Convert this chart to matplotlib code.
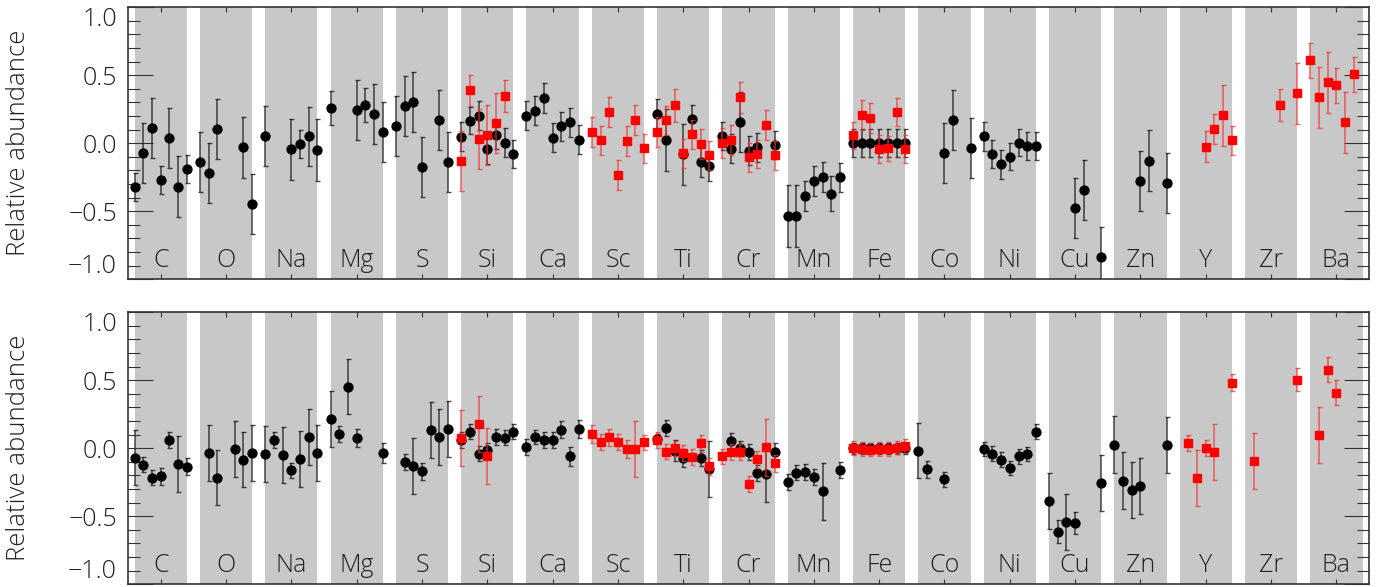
import numpy as np
import matplotlib
matplotlib.use("Agg")
import matplotlib.pyplot as plt
from matplotlib.ticker import MultipleLocator, FixedLocator

N = None
elements = ["C", "O", "Na", "Mg", "S", "Si", "Ca", "Sc", "Ti", "Cr",
            "Mn", "Fe", "Co", "Ni", "Cu", "Zn", "Y", "Zr", "Ba"]
E7 = [N] * 7

# ---------------- top panel ----------------
top_black_val = [
    [-0.32, -0.07, 0.115, -0.27, 0.04, -0.32, -0.19],      # C
    [-0.14, -0.22, 0.105, N, N, -0.03, -0.445],            # O
    [0.055, N, N, -0.045, -0.005, 0.05, -0.05],            # Na
    [0.257, N, N, 0.245, 0.28, 0.215, 0.08],               # Mg
    [0.125, 0.275, 0.305, -0.175, N, 0.17, -0.14],         # S
    [0.049, 0.166, 0.203, -0.04, 0.063, 0.005, -0.08],     # Si
    [0.203, 0.24, 0.335, 0.041, 0.125, 0.154, 0.027],      # Ca
    E7,                                                    # Sc
    [0.213, 0.024, N, -0.08, 0.179, -0.14, -0.169],        # Ti
    [0.054, -0.04, 0.157, -0.054, -0.03, N, -0.012],       # Cr
    [-0.535, -0.535, -0.39, -0.275, -0.25, -0.37, -0.25],  # Mn
    [0.0, 0.0, 0.0, 0.0, 0.0, 0.0, 0.0],                   # Fe
    [N, N, N, -0.074, 0.17, N, -0.037],                    # Co
    [0.05, -0.08, -0.155, -0.1, 0.005, -0.02, -0.02],      # Ni
    [N, N, N, -0.473, -0.343, N, -0.836],                  # Cu
    [N, N, N, -0.28, -0.127, N, -0.29],                    # Zn
    E7, E7, E7,                                            # Y Zr Ba
]
top_black_err = [
    [0.105, 0.22, 0.22, 0.105, 0.22, 0.225, 0.105],
    [0.22, 0.22, 0.22, N, N, 0.225, 0.22],
    [0.22, N, N, 0.225, 0.105, 0.22, 0.225],
    [0.125, N, N, 0.22, 0.125, 0.22, 0.22],
    [0.22, 0.22, 0.22, 0.22, N, 0.22, 0.22],
    [0.105, 0.10, 0.105, 0.11, 0.105, 0.105, 0.105],
    [0.105, 0.105, 0.11, 0.105, 0.105, 0.105, 0.105],
    E7,
    [0.115, 0.225, N, 0.225, 0.105, 0.11, 0.105],
    [0.105, 0.105, 0.22, 0.105, 0.105, N, 0.105],
    [0.225, 0.225, 0.11, 0.11, 0.11, 0.13, 0.105],
    [0.103, 0.103, 0.103, 0.103, 0.103, 0.103, 0.103],
    [N, N, N, 0.22, 0.22, N, 0.22],
    [0.11, 0.105, 0.105, 0.1, 0.1, 0.105, 0.1],
    [N, N, N, 0.22, 0.22, N, 0.22],
    [N, N, N, 0.22, 0.225, N, 0.22],
    E7, E7, E7,
]
top_red_val = [
    E7, E7, E7, E7, E7,
    [-0.133, 0.39, 0.03, 0.063, 0.147, 0.348, N],          # Si
    E7,                                                    # Ca
    [0.081, 0.022, 0.228, -0.235, 0.015, 0.169, -0.037],   # Sc
    [0.081, 0.169, 0.279, -0.074, 0.066, -0.007, -0.088],  # Ti
    [0.0, 0.022, 0.338, -0.103, -0.08, 0.132, -0.088],     # Cr
    E7,                                                    # Mn
    [0.059, 0.206, 0.186, -0.042, -0.037, 0.23, -0.042],   # Fe
    E7, E7, E7, E7,                                        # Co Ni Cu Zn
    [N, N, N, -0.025, 0.103, 0.206, 0.022],                # Y
    [N, N, N, N, 0.28, N, 0.368],                          # Zr
    [0.61, 0.338, 0.449, 0.426, 0.154, 0.507, N],          # Ba
]
top_red_err = [
    E7, E7, E7, E7, E7,
    [0.22, 0.115, 0.22, 0.22, 0.22, 0.115, N],
    E7,
    [0.11, 0.107, 0.11, 0.11, 0.11, 0.11, 0.107],
    [0.11, 0.105, 0.12, 0.105, 0.105, 0.11, 0.105],
    [0.11, 0.11, 0.115, 0.105, 0.105, 0.11, 0.105],
    E7,
    [0.1, 0.11, 0.11, 0.1, 0.09, 0.105, 0.1],
    E7, E7, E7, E7,
    [N, N, N, 0.115, 0.11, 0.225, 0.108],
    [N, N, N, N, 0.118, N, 0.225],
    [0.127, 0.225, 0.225, 0.127, 0.225, 0.127, N],
]

# ---------------- bottom panel ----------------
bot_black_val = [
    [-0.068, -0.122, -0.215, -0.207, 0.063, -0.115, -0.134],  # C
    [N, -0.034, -0.215, N, -0.007, -0.083, -0.034],           # O
    [-0.04, 0.063, -0.05, -0.163, -0.078, 0.085, -0.034],     # Na
    [0.215, 0.107, 0.454, 0.076, N, N, -0.034],               # Mg
    [N, -0.1, -0.13, -0.17, 0.132, 0.085, 0.141],             # S
    [0.061, 0.122, -0.04, -0.015, 0.085, 0.078, 0.122],       # Si
    [0.01, 0.083, 0.063, 0.059, 0.137, -0.059, 0.142],        # Ca
    E7,                                                       # Sc
    [0.068, 0.147, -0.017, -0.07, N, -0.073, -0.154],         # Ti
    [N, 0.054, 0.0, -0.03, -0.181, -0.186, -0.03],            # Cr
    [-0.25, -0.178, -0.176, -0.212, -0.317, N, -0.16],        # Mn
    [0.0, 0.0, 0.0, 0.0, 0.0, 0.0, 0.0],                      # Fe
    [-0.017, -0.154, N, -0.227, N, N, N],                     # Co
    [-0.007, -0.04, -0.083, -0.146, -0.06, -0.041, 0.12],     # Ni
    [-0.385, -0.615, -0.54, -0.55, N, N, -0.256],             # Cu
    [0.027, -0.237, -0.305, -0.28, N, N, 0.027],              # Zn
    E7, E7, E7,                                               # Y Zr Ba
]
bot_black_err = [
    [0.205, 0.055, 0.055, 0.06, 0.06, 0.205, 0.06],
    [N, 0.205, 0.205, N, 0.205, 0.205, 0.205],
    [0.205, 0.06, 0.205, 0.058, 0.205, 0.205, 0.205],
    [0.205, 0.06, 0.205, 0.066, N, N, 0.075],
    [N, 0.06, 0.205, 0.06, 0.205, 0.205, 0.205],
    [0.06, 0.055, 0.055, 0.057, 0.06, 0.057, 0.055],
    [0.06, 0.055, 0.06, 0.06, 0.065, 0.072, 0.065],
    E7,
    [0.04, 0.06, 0.075, 0.065, N, 0.06, 0.207],
    [N, 0.057, 0.057, 0.058, 0.058, 0.207, 0.07],
    [0.06, 0.057, 0.06, 0.06, 0.207, N, 0.057],
    [0.04, 0.04, 0.04, 0.04, 0.04, 0.04, 0.04],
    [0.205, 0.063, N, 0.054, N, N, N],
    [0.05, 0.054, 0.053, 0.053, 0.057, 0.054, 0.055],
    [0.205, 0.085, 0.205, 0.082, N, N, 0.205],
    [0.207, 0.207, 0.205, 0.205, N, N, 0.205],
    E7, E7, E7,
]
bot_red_val = [
    E7, E7, E7, E7, E7,
    [0.076, N, 0.178, -0.059, N, N, N],                       # Si
    E7,                                                       # Ca
    [0.103, 0.046, 0.081, 0.044, -0.007, -0.007, 0.044],      # Sc
    [0.059, -0.027, 0.0, -0.034, -0.064, 0.037, -0.132],      # Ti
    [-0.059, -0.027, -0.027, -0.264, -0.081, 0.007, -0.11],   # Cr
    E7,                                                       # Mn
    [0.0, -0.005, -0.01, -0.005, -0.005, 0.005, 0.017],       # Fe
    E7, E7, E7, E7,                                           # Co Ni Cu Zn
    [N, 0.037, -0.22, 0.005, -0.03, N, 0.483],                # Y
    [N, -0.095, N, N, N, N, 0.505],                           # Zr
    [N, 0.095, 0.578, 0.41, N, N, N],                         # Ba
]
bot_red_err = [
    E7, E7, E7, E7, E7,
    [0.204, N, 0.205, 0.207, N, N, N],
    E7,
    [0.065, 0.058, 0.062, 0.058, 0.066, 0.205, 0.057],
    [0.06, 0.055, 0.057, 0.06, 0.057, 0.062, 0.063],
    [0.057, 0.057, 0.057, 0.057, 0.062, 0.21, 0.062],
    E7,
    [0.05, 0.05, 0.05, 0.05, 0.05, 0.05, 0.05],
    E7, E7, E7, E7,
    [N, 0.06, 0.205, 0.058, 0.205, N, 0.06],
    [N, 0.205, N, N, N, N, 0.083],
    [N, 0.205, 0.09, 0.09, N, N, N],
]

# ---------------- drawing ----------------
FONT = ["Open Sans", "DejaVu Sans"]
WEIGHT = "light"
TXT = "#222222"
HALF = 0.4
fig = plt.figure(figsize=(13.83, 5.87), dpi=100)
ax_top = fig.add_axes([0.0926, 0.5242, 0.8973, 0.4634])
ax_bot = fig.add_axes([0.0926, 0.0046, 0.8973, 0.4634])


def flatten(vals, errs):
    xs, ys, es = [], [], []
    for i, (row, erow) in enumerate(zip(vals, errs)):
        for k, (v, e) in enumerate(zip(row, erow)):
            if v is None:
                continue
            xs.append(i + 1 + (k - 3) * HALF / 3)
            ys.append(v)
            es.append(e)
    return np.array(xs), np.array(ys), np.array(es)


def panel(ax, bv, be, rv, re):
    ax.set_xlim(0.5, len(elements) + 0.5)
    ax.set_ylim(-1.0, 1.0)
    for i, el in enumerate(elements):
        ax.axvspan(i + 1 - HALF, i + 1 + HALF, color="#c8c8c8", lw=0, zorder=0)
        ax.text(i + 1, -0.908, el, ha="center", va="baseline",
                fontsize=18, color=TXT, family=FONT, weight=WEIGHT, zorder=1)
    x, y, e = flatten(bv, be)
    ax.errorbar(x, y, yerr=e, fmt="o", ms=6.4, mfc="black", mec="black",
                ecolor=(0.1, 0.1, 0.1, 0.8), elinewidth=1.1, capsize=1.8,
                capthick=1.0, zorder=3)
    x, y, e = flatten(rv, re)
    ax.errorbar(x, y, yerr=e, fmt="s", ms=6.3, mfc="red", mec="red",
                ecolor=(0.95, 0.2, 0.2, 0.75), elinewidth=1.1, capsize=1.8,
                capthick=1.0, zorder=4)
    for s in ax.spines.values():
        s.set_color("#333333")
        s.set_linewidth(1.2)
    ax.xaxis.set_major_locator(FixedLocator(np.arange(1, len(elements) + 1)))
    ax.tick_params(axis="x", which="both", direction="in", top=True, bottom=True,
                   length=3.3, width=0.8, color="#333333", labelbottom=False)
    ax.yaxis.set_major_locator(MultipleLocator(0.5))
    ax.yaxis.set_minor_locator(MultipleLocator(0.1))
    ax.tick_params(axis="y", which="major", direction="in", left=True, right=True,
                   length=18, width=0.8, color="#333333", pad=8,
                   labelsize=18, labelcolor=TXT)
    ax.tick_params(axis="y", which="minor", direction="in", left=True, right=True,
                   length=8.6, width=0.8, color="#333333")
    ax.set_yticks([-1.0, -0.5, 0.0, 0.5, 1.0])
    ax.set_yticklabels(["\u22121.0", "\u22120.5", "0.0", "0.5", "1.0"],
                       family=FONT, weight=WEIGHT)
    labs = ax.get_yticklabels()
    labs[0].set_va("bottom")
    labs[-1].set_va("top")
    ax.set_ylabel("Relative abundance", fontsize=18.5, color=TXT, family=FONT,
                  weight=WEIGHT)
    ax.yaxis.set_label_coords(-0.0886, 0.5)
    ax.yaxis.label.set_va("center")


panel(ax_top, top_black_val, top_black_err, top_red_val, top_red_err)
panel(ax_bot, bot_black_val, bot_black_err, bot_red_val, bot_red_err)

fig.savefig("out.png", dpi=100)
